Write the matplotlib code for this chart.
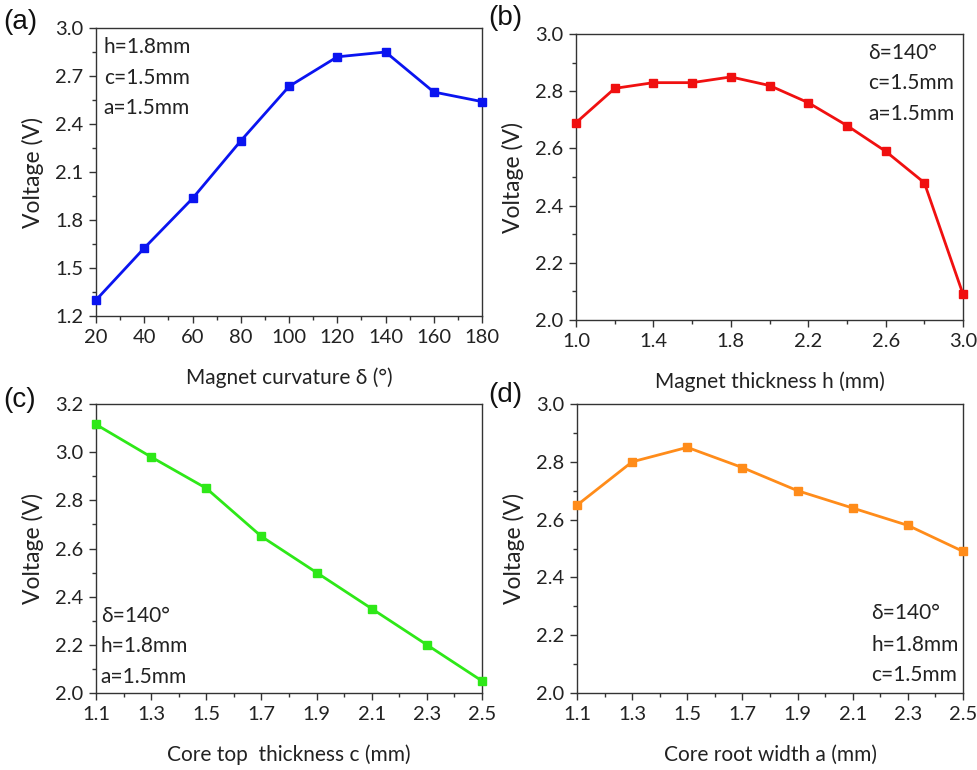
import matplotlib
matplotlib.use("Agg")
import numpy as np
import matplotlib.pyplot as plt
from matplotlib.ticker import FixedLocator

plt.rcParams['font.family'] = ['Lato', 'DejaVu Sans']

# -------------------------
# Data
# -------------------------
curv_x = [20, 40, 60, 80, 100, 120, 140, 160, 180]
curv_v = [1.30, 1.625, 1.935, 2.295, 2.635, 2.82, 2.85, 2.60, 2.54]

thick_x = [1.0, 1.2, 1.4, 1.6, 1.8, 2.0, 2.2, 2.4, 2.6, 2.8, 3.0]
thick_v = [2.69, 2.81, 2.83, 2.83, 2.85, 2.82, 2.76, 2.68, 2.59, 2.48, 2.09]

top_x = [1.1, 1.3, 1.5, 1.7, 1.9, 2.1, 2.3, 2.5]
top_v = [3.115, 2.98, 2.85, 2.65, 2.50, 2.35, 2.20, 2.05]

root_x = [1.1, 1.3, 1.5, 1.7, 1.9, 2.1, 2.3, 2.5]
root_v = [2.65, 2.80, 2.85, 2.78, 2.70, 2.64, 2.58, 2.49]

xlabels = ["Magnet curvature δ (°)", "Magnet thickness h (mm)",
           "Core top  thickness c (mm)", "Core root width a (mm)"]
notes = [["h=1.8mm", "c=1.5mm", "a=1.5mm"],
         ["δ=140°", "c=1.5mm", "a=1.5mm"],
         ["δ=140°", "h=1.8mm", "a=1.5mm"],
         ["δ=140°", "h=1.8mm", "c=1.5mm"]]
panel_tags = ["(a)", "(b)", "(c)", "(d)"]

# -------------------------
# Layout / style
# -------------------------
fig = plt.figure(figsize=(9.78, 7.70), dpi=100)

boxes = [
    [0.0982, 0.5896, 0.3947, 0.3740],
    [0.5890, 0.5844, 0.3957, 0.3714],
    [0.0982, 0.1000, 0.3947, 0.3753],
    [0.5900, 0.1000, 0.3947, 0.3753],
]
series = [(curv_x, curv_v), (thick_x, thick_v), (top_x, top_v), (root_x, root_v)]
colors = ["#0a14f0", "#f01010", "#2ee818", "#ff8c1a"]
xlims = [(20, 180), (1.0, 3.0), (1.1, 2.5), (1.1, 2.5)]
ylims = [(1.2, 3.0), (2.0, 3.0), (2.0, 3.2), (2.0, 3.0)]
# (major step, minor step)
xsteps = [(20, 10), (0.4, 0.2), (0.2, 0.1), (0.2, 0.1)]
ysteps = [(0.3, 0.15), (0.2, 0.1), (0.2, 0.1), (0.2, 0.1)]
xfmt = ["{:.0f}", "{:.1f}", "{:.1f}", "{:.1f}"]
note_x = [0.02, 0.755, 0.012, 0.762]
note_y = [[0.934, 0.826, 0.722], [0.934, 0.829, 0.72],
          [0.266, 0.163, 0.055], [0.277, 0.166, 0.062]]
tag_pos = [(0.003, 0.972), (0.499, 0.977), (0.003, 0.481), (0.499, 0.487)]

spine_col = "#333333"
txt_col = "#222222"


def ticks_from(lo, hi, step):
    n = int(round((hi - lo) / step))
    return lo + step * np.arange(n + 1)


for i in range(4):
    ax = fig.add_axes(boxes[i])
    x, v = series[i]
    ax.plot(x, v, color=colors[i], lw=2.0, marker="s", ms=5.5,
            clip_on=False, zorder=3)
    ax.set_xlim(*xlims[i])
    ax.set_ylim(*ylims[i])
    ax.xaxis.set_major_locator(FixedLocator(ticks_from(*xlims[i], xsteps[i][0])))
    ax.xaxis.set_minor_locator(FixedLocator(ticks_from(*xlims[i], xsteps[i][1])))
    ax.yaxis.set_major_locator(FixedLocator(ticks_from(*ylims[i], ysteps[i][0])))
    ax.yaxis.set_minor_locator(FixedLocator(ticks_from(*ylims[i], ysteps[i][1])))
    f = xfmt[i]
    ax.xaxis.set_major_formatter(plt.FuncFormatter(lambda val, pos, f=f: f.format(val)))
    ax.yaxis.set_major_formatter(plt.FuncFormatter(lambda val, pos: f"{val:.1f}"))
    ax.tick_params(which="both", direction="out", colors=spine_col,
                   labelcolor=txt_col, labelsize=14.5, width=1.0)
    ax.tick_params(which="major", length=5, pad=4)
    ax.tick_params(which="minor", length=3)
    for s in ax.spines.values():
        s.set_color(spine_col)
        s.set_linewidth(1.0)
    ax.set_ylabel("Voltage (V)", fontsize=16.5, color=txt_col, labelpad=8)
    ax.set_xlabel(xlabels[i], fontsize=15, color=txt_col, labelpad=16)
    for k, line in enumerate(notes[i]):
        ax.text(note_x[i], note_y[i][k], line, transform=ax.transAxes,
                fontsize=15, color=txt_col, ha="left", va="center")
    fig.text(tag_pos[i][0], tag_pos[i][1], panel_tags[i], fontsize=20,
             family=["Liberation Sans", "DejaVu Sans"], color="#111111",
             ha="left", va="center")

fig.savefig("out.png", dpi=100)
